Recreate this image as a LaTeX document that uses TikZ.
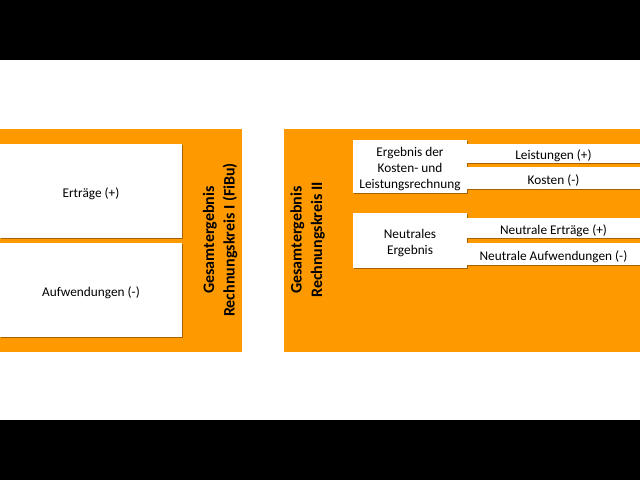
\documentclass[tikz,border=0pt]{standalone}
\usepackage{fontspec}
\setmainfont{Carlito}
\usetikzlibrary{shadows}
\definecolor{orng}{HTML}{FF9900}
\tikzset{
  orangebg/.style={fill=orng, draw=none},
  wbox/.style={fill=white, draw=none, inner sep=0pt,
    drop shadow={shadow xshift=0.7pt, shadow yshift=-0.7pt, fill=black!70!orng, opacity=0.5}},
  txt/.style={yshift=-2.5pt, align=center, inner sep=0pt, font=\fontsize{13.3}{16}\selectfont},
  vlabel/.style={rotate=90, align=center, font=\fontsize{16}{20.5}\selectfont\bfseries, inner sep=0pt},
}
\begin{document}
\begin{tikzpicture}[x=1pt, y=-1pt]
\useasboundingbox (0,0) rectangle (640,480);
\fill[black] (0,0) rectangle (640,60);
\fill[black] (0,420) rectangle (640,480);
% left block
\node[orangebg, minimum width=242pt, minimum height=223pt, inner sep=0pt] (lbg) at (121,240.5) {};
\node[wbox, minimum width=182pt, minimum height=94pt, label={[txt]center:Erträge (+)}] (ertr) at (91,191) {};
\node[wbox, minimum width=182pt, minimum height=94pt, label={[txt]center:Aufwendungen (-)}] (aufw) at (91,290) {};
\node[vlabel] (lgl) at (220,240) {Gesamtergebnis\\Rechnungskreis I (FiBu)};
% right block
\node[orangebg, minimum width=356pt, minimum height=223pt, inner sep=0pt] (rbg) at (462,240.5) {};
\node[vlabel] (rgl) at (307.5,240) {Gesamtergebnis\\Rechnungskreis II};
\node[wbox, minimum width=114pt, minimum height=53pt, label={[txt]center:Ergebnis der\\Kosten- und\\Leistungsrechnung}] (enk) at (410,166.5) {};
\node[wbox, minimum width=173pt, minimum height=19pt, label={[txt]center:Leistungen (+)}] (leist) at (553.5,153.5) {};
\node[wbox, minimum width=173pt, minimum height=22pt, label={[txt]center:Kosten (-)}] (kost) at (553.5,178) {};
\node[wbox, minimum width=114pt, minimum height=55pt, label={[txt]center:Neutrales\\Ergebnis}] (ne) at (410,240.5) {};
\node[wbox, minimum width=173pt, minimum height=20pt, label={[txt]center:Neutrale Erträge (+)}] (nertr) at (553.5,228) {};
\node[wbox, minimum width=173pt, minimum height=22pt, label={[txt]center:Neutrale Aufwendungen (-)}] (naufw) at (553.5,254) {};
\end{tikzpicture}
\end{document}
